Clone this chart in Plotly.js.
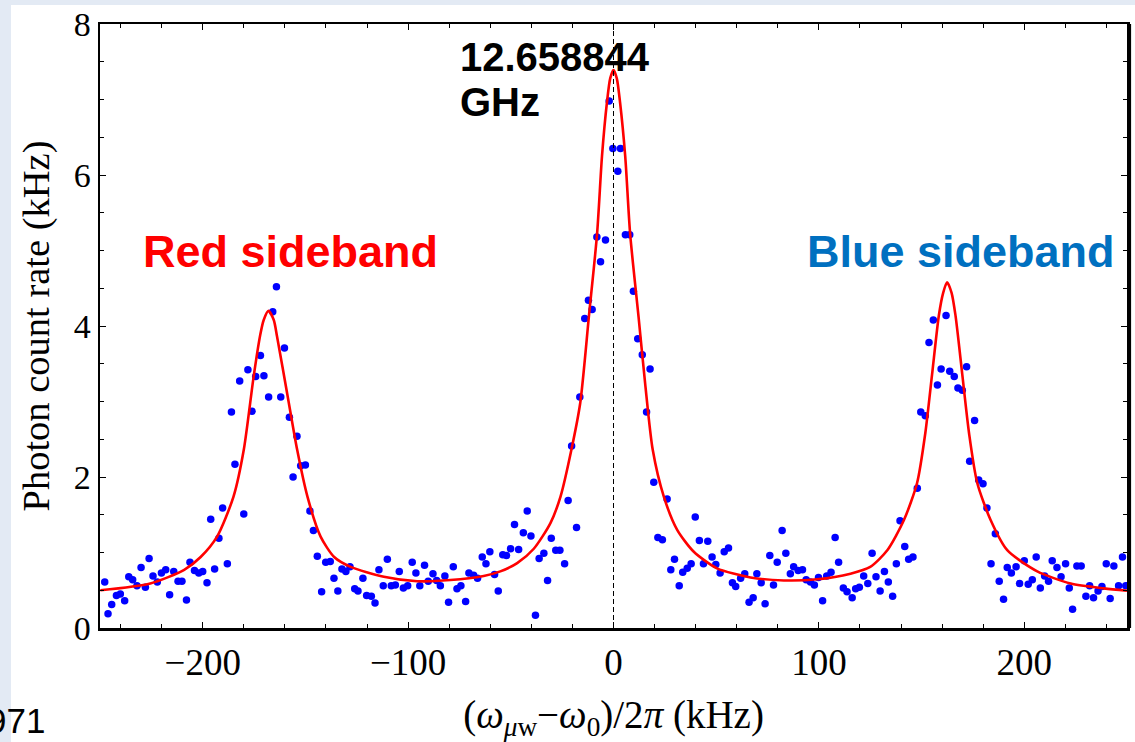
<!DOCTYPE html>
<html>
<head>
<meta charset="utf-8">
<script src="https://cdn.plot.ly/plotly-3.0.1.min.js"></script>
<style>html,body{margin:0;padding:0;background:#e3eaf4;}#chart{width:1135px;height:742px;}</style>
</head>
<body>
<div id="chart"></div>
<script>
// Measured photon count rate (kHz) vs detuning (kHz)
const detuning = [
-247.7,-246.1,-244.3,-242.0,-240.1,-238.0,-236.0,-234.1,-232.0,-230.0,
-227.9,-226.1,-224.2,-222.1,-220.1,-218.0,-216.1,-214.1,-212.0,-210.1,
-207.9,-206.2,-204.0,-201.9,-200.0,-197.9,-196.1,-194.2,-192.1,-190.3,
-188.0,-186.0,-184.3,-182.0,-180.0,-178.0,-176.0,-174.2,-171.9,-170.2,
-167.9,-165.9,-164.1,-162.0,-160.2,-157.8,-156.0,-154.1,-152.3,-150.0,
-147.8,-146.1,-144.2,-142.1,-140.1,-137.9,-136.1,-134.2,-132.2,-130.3,
-128.3,-126.0,-124.4,-122.0,-120.2,-117.9,-116.1,-114.2,-112.1,-110.1,
-108.2,-106.2,-104.3,-102.3,-100.2,-98.0,-96.2,-94.3,-92.0,-90.2,
-87.9,-86.1,-84.3,-82.1,-80.3,-78.0,-76.2,-74.3,-72.0,-70.4,
-68.1,-66.2,-63.9,-62.1,-60.2,-57.9,-56.1,-53.9,-52.1,-50.1,
-48.2,-46.2,-43.9,-42.0,-40.2,-38.0,-36.2,-33.9,-32.1,-30.3,
-28.1,-26.1,-23.8,-22.1,-20.4,-18.0,-16.4,-14.0,-12.2,-10.4,
-8.1,-6.3,-3.9,-2.1,-0.3,2.1,3.4,5.8,7.9,9.7,
11.8,14.0,16.1,17.8,19.6,21.6,23.8,26.1,27.9,29.7,
32.0,33.7,35.9,37.8,39.8,41.8,43.8,45.9,48.0,49.8,
51.9,53.9,56.0,57.9,59.5,61.9,63.9,66.0,68.0,69.8,
71.9,73.8,76.1,77.9,79.7,82.1,83.9,86.1,87.7,89.9,
92.0,93.8,95.9,97.8,99.8,101.8,103.8,105.9,107.9,109.6,
111.9,113.7,116.2,117.9,119.7,121.8,123.8,125.9,127.8,129.8,
131.9,133.8,135.9,137.7,139.5,141.8,143.7,145.8,147.9,149.6,
151.8,153.6,155.7,157.7,159.5,161.9,163.7,165.9,167.7,169.8,
171.9,173.4,175.8,177.8,179.9,181.8,183.8,185.9,187.8,189.9,
191.7,193.7,196.0,197.7,200.0,201.9,203.9,205.8,207.8,209.9,
211.8,213.6,215.9,217.9,220.1,221.9,223.5,225.6,227.7,230.0,
231.8,233.7,235.9,237.8,239.9,241.8,243.6,245.9,247.8,249.4
];
const countRate = [
0.61,0.19,0.31,0.43,0.45,0.36,0.68,0.64,0.56,0.80,
0.54,0.92,0.69,0.61,0.73,0.77,0.44,0.75,0.62,0.62,
0.37,0.87,0.76,0.73,0.75,0.60,1.44,0.78,1.19,1.59,
0.85,2.86,2.17,3.27,1.51,3.42,2.87,3.33,3.61,3.34,
3.06,4.19,4.52,3.06,3.71,2.79,2.00,2.54,2.15,2.16,
1.55,1.29,0.95,0.48,0.87,0.88,0.66,0.49,0.78,0.75,
0.81,0.52,0.49,0.66,0.43,0.42,0.33,0.77,0.56,0.91,
0.56,0.57,0.75,0.53,0.56,0.87,0.73,0.56,0.83,0.62,
0.72,0.63,0.56,0.69,0.34,0.81,0.52,0.56,0.35,0.73,
0.70,0.66,0.94,0.85,1.01,0.71,0.49,0.97,0.96,1.05,
1.37,1.04,1.26,1.55,1.22,0.17,0.92,0.99,0.63,1.19,
1.03,1.03,0.85,1.69,2.41,1.33,3.06,4.10,4.34,4.22,
5.18,4.85,5.14,6.98,6.35,6.05,6.35,5.21,5.21,4.46,
3.83,3.62,2.86,3.43,1.93,1.20,1.17,1.71,0.77,0.91,
0.56,0.74,0.79,0.85,1.47,1.16,0.85,1.15,0.94,0.84,
0.73,1.01,1.06,0.60,0.55,0.66,0.72,0.34,0.40,0.72,
0.60,0.32,0.96,0.57,0.87,1.29,0.99,0.72,0.81,0.76,
0.77,0.64,0.61,0.57,0.67,0.36,0.69,0.74,1.20,0.87,
0.53,0.48,0.40,0.52,0.54,0.69,0.59,0.99,0.68,0.49,
0.75,0.61,0.42,0.85,1.42,1.08,0.91,0.94,1.85,2.86,
2.81,3.78,4.08,3.22,3.43,4.14,3.40,3.33,3.18,3.15,
3.46,2.21,2.75,1.96,1.91,1.59,0.85,1.25,0.62,0.38,
0.80,0.73,0.81,0.59,0.89,0.58,0.64,0.94,0.53,0.69,
0.62,0.89,0.80,0.68,0.85,0.53,0.25,0.82,0.82,0.42,
0.56,0.40,0.49,0.55,0.85,0.39,0.82,0.56,0.94,0.56
];
// Fit curve
const fitX = [
-249.8,-225.5,-209,-201,-193,-185,-180,-175.2,-172,-170.3,-168,-165.4,-163.8,-158.9,-154,-149,-142.6,-136,-128,
-111.8,-95.6,-79.4,-63.2,-55.1,-46.9,-38.8,-30.7,-25.8,-20.5,-16.2,-12.0,-8.0,-5.6,-3.2,-1.6,0,1.6,3.2,5.7,8.1,12.2,15.4,19.1,
24.5,31,39.1,50.4,66.7,82.9,99.2,115.4,125,133.3,141.4,147.8,151.8,155.1,158.4,160.5,162.4,164.6,166.5,169.8,173.1,177.1,183.6,191.7,
206.3,222.6,238.8,250
];
const fitY = [
0.50,0.59,0.77,0.94,1.21,1.74,2.36,3.33,3.88,4.08,4.20,4.08,3.86,3.11,2.36,1.74,1.21,0.94,0.81,
0.68,0.62,0.635,0.69,0.75,0.86,1.05,1.39,1.74,2.36,2.98,4.12,5.22,6.25,6.96,7.28,7.39,7.28,6.96,6.25,5.22,4.12,3.24,2.36,
1.74,1.30,1.01,0.79,0.67,0.63,0.645,0.72,0.81,1.03,1.43,1.92,2.58,3.36,4.14,4.44,4.58,4.44,4.14,3.36,2.58,1.92,1.43,1.03,
0.75,0.59,0.525,0.494
];
const centerX = 0;
const xTicks = [-200,-100,0,100,200];
const xTickText = ['\u2212200','\u2212100','0','100','200'];
const yTicks = [0,2,4,6,8];

const W = 1135, H = 742, L = 100, R = 8, T = 24, B = 114;
const pw = W - L - R, ph = H - T - B;
const px = v => (v - L) / pw;
const py = v => (H - B - v) / ph;

const traces = [
  {x: detuning, y: countRate, type: 'scatter', mode: 'markers',
   marker: {color: '#0000ff', size: 7.5}, hoverinfo: 'x+y', showlegend: false},
  {x: fitX, y: fitY, type: 'scatter', mode: 'lines',
   line: {color: '#ff0000', width: 2.6, shape: 'spline', smoothing: 0.7}, showlegend: false}
];

const serif = 'Liberation Serif, Times New Roman, serif';
const sans = 'Liberation Sans, Arial, sans-serif';

const layout = {
  width: W, height: H,
  margin: {l: L, r: R, t: T, b: B, pad: 0},
  paper_bgcolor: '#e3eaf4',
  plot_bgcolor: '#ffffff',
  showlegend: false,
  xaxis: {
    range: [-250, 250], tickvals: xTicks, ticktext: xTickText,
    ticks: 'inside', ticklen: 6, tickwidth: 1, tickcolor: '#000',
    minor: {dtick: 20, ticks: 'inside', ticklen: 4, tickwidth: 1, tickcolor: '#000'},
    showline: true, linecolor: '#000', linewidth: 2.5, mirror: 'allticks',
    showgrid: false, zeroline: false,
    tickfont: {family: serif, size: 37, color: '#000'},
    title: {text: '(<i>ω</i><sub><i>μ</i>w</sub>−<i>ω</i><sub>0</sub>)/2<i>π</i> (kHz)',
            font: {family: serif, size: 39, color: '#000'}, standoff: 28},
    automargin: false, fixedrange: true
  },
  yaxis: {
    range: [0, 8], tickvals: yTicks,
    ticks: 'inside', ticklen: 6, tickwidth: 1, tickcolor: '#000',
    minor: {dtick: 0.5, ticks: 'inside', ticklen: 4, tickwidth: 1, tickcolor: '#000'},
    showline: true, linecolor: '#000', linewidth: 2.5, mirror: 'allticks',
    showgrid: false, zeroline: false,
    tickfont: {family: serif, size: 34, color: '#000'},
    title: {text: 'Photon count rate (kHz)', font: {family: serif, size: 38.5, color: '#000'}, standoff: 12},
    automargin: false, fixedrange: true
  },
  shapes: [
    {type: 'rect', xref: 'paper', yref: 'paper', layer: 'below',
     x0: px(11), x1: px(W + 5), y0: py(H + 5), y1: py(5),
     fillcolor: '#ffffff', line: {width: 0}},
    {type: 'line', xref: 'x', yref: 'paper', x0: centerX, x1: centerX, y0: 0, y1: 1,
     line: {color: '#000', width: 1, dash: '5px,3px'}},
    {type: 'line', xref: 'paper', yref: 'paper', x0: px(1130.5), x1: px(1130.5), y0: 0, y1: 1,
     line: {color: '#000', width: 1.2}}
  ],
  annotations: [
    {text: '<b>Red sideband</b>', xref: 'paper', yref: 'paper', x: px(290), y: py(251),
     xanchor: 'center', yanchor: 'middle', showarrow: false, borderpad: 0,
     font: {family: sans, size: 45, color: '#ff0000'}},
    {text: '<b>Blue sideband</b>', xref: 'paper', yref: 'paper', x: px(960.5), y: py(251),
     xanchor: 'center', yanchor: 'middle', showarrow: false, borderpad: 0,
     font: {family: sans, size: 45, color: '#0070c0'}},
    {text: '<b>12.658844</b>', xref: 'paper', yref: 'paper', x: px(459), y: py(57),
     xanchor: 'left', yanchor: 'middle', showarrow: false, borderpad: 0,
     font: {family: sans, size: 40, color: '#000'}},
    {text: '<b>GHz</b>', xref: 'paper', yref: 'paper', x: px(459), y: py(102),
     xanchor: 'left', yanchor: 'middle', showarrow: false, borderpad: 0,
     font: {family: sans, size: 40, color: '#000'}},
    {text: '971', xref: 'paper', yref: 'paper', x: px(46), y: py(720),
     xanchor: 'right', yanchor: 'middle', showarrow: false, borderpad: 0,
     font: {family: sans, size: 35, color: '#000'}}
  ]
};

Plotly.newPlot('chart', traces, layout, {displayModeBar: false, staticPlot: true});
</script>
</body>
</html>
